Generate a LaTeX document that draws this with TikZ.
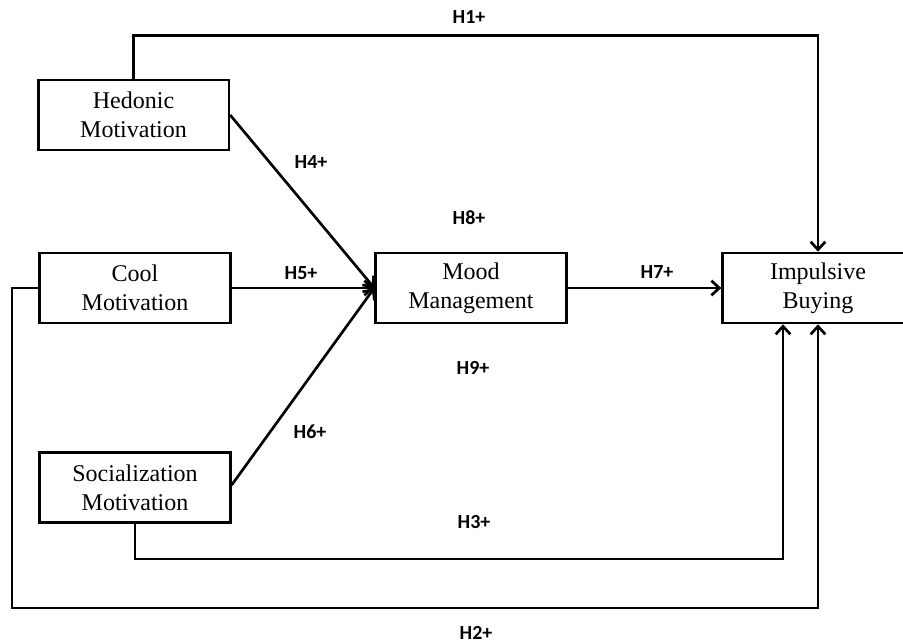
\documentclass[tikz,border=0pt]{standalone}
\usepackage{fontspec}
\setmainfont{Liberation Serif}
\newfontfamily\hypfont{Carlito}
\usetikzlibrary{arrows.meta,calc}

\begin{document}
\begin{tikzpicture}[x=0.75pt, y=-0.75pt, line width=2pt,
	box/.style={draw, line width=2pt, minimum width=143pt, minimum height=52.5pt, inner sep=2pt, align=center, font=\fontsize{18}{21.5}\selectfont},
	hyp/.style={font=\hypfont\bfseries\fontsize{15}{18}\selectfont},
	link/.style={-{Straight Barb[length=6pt, width=11pt, line width=2pt]}}]
			%%%%% START %%%%%
			
			\clip (0, 0) rectangle (903, 643);
			
			\node[box] (hed) at (133.5, 115) {Hedonic\\Motivation};
			\node[box] (cool) at (135, 288) {Cool\\Motivation};
			\node[box] (soc) at (135, 487.5) {Socialization\\Motivation};
			\node[box] (mood) at (471, 288) {Mood\\Management};
			\node[box] (imp) at (818, 288) {Impulsive\\Buying};
			
			\coordinate (h2turn) at (12, 608);
			\coordinate (h3end) at ($(imp.south)+(-35, 0)$);
			
			\draw[link] (hed.north) -- ++(0, -43) -| (imp.north);
			\draw[link] (hed.east |- 0, 115) -- (mood.west);
			\draw[link] (cool.east) -- (mood.west);
			\draw[link] (soc.east |- 0, 485) -- (mood.west);
			\draw[link] (mood.east) -- (imp.west);
			\draw[link] (soc.south) -- ++(0, 35) -| (h3end);
			\draw[link] (cool.west) -| (h2turn) -| (imp.south);
			
			\node[hyp] (h1) at (469, 17) {H1+};
			\node[hyp] (h4) at (311, 162) {H4+};
			\node[hyp] (h5) at (301, 273) {H5+};
			\node[hyp] (h8) at (469, 218) {H8+};
			\node[hyp] (h7) at (657, 272) {H7+};
			\node[hyp] (h9) at (473, 368) {H9+};
			\node[hyp] (h6) at (310, 432) {H6+};
			\node[hyp] (h3) at (474, 522) {H3+};
			\node[hyp] (h2) at (476, 633) {H2+};
			
			%%%%% END %%%%%
\end{tikzpicture}
\end{document}
